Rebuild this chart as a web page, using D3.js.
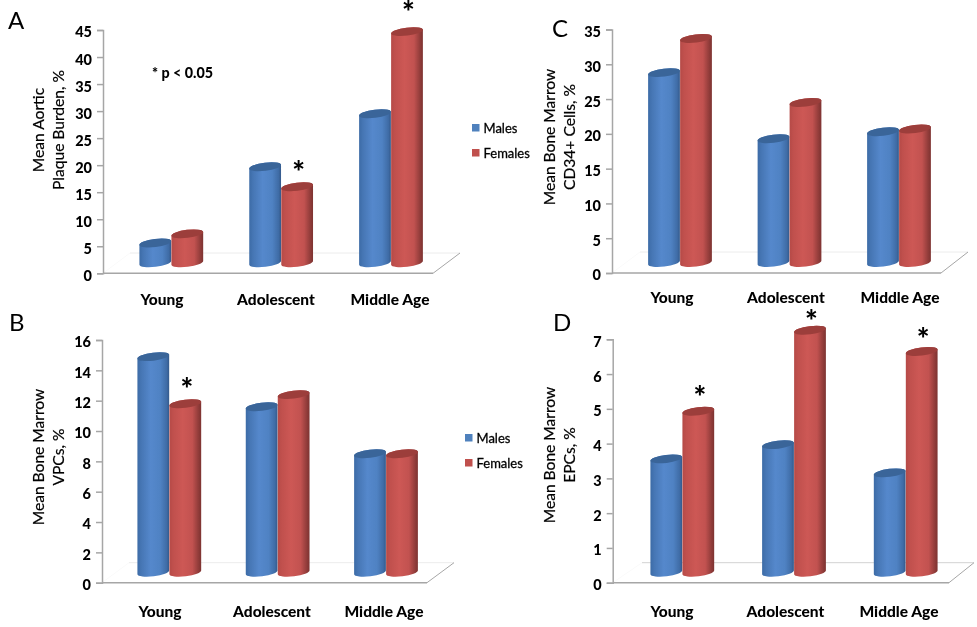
<!DOCTYPE html>
<html>
<head>
<meta charset="utf-8">
<script src="https://cdn.jsdelivr.net/npm/d3@7"></script>
<style>
html,body{margin:0;padding:0;background:#fff}
svg{display:block;font-family:Lato,"Open Sans",sans-serif;filter:blur(0.35px)}
</style>
</head>
<body>
<svg id="canvas" width="977" height="627"></svg>
<script>
// data
let categories=["Young","Adolescent","Middle Age"]
let series=["Males","Females"]

let plaqueMales=[5.6,19.7,29.5]
let plaqueFemales=[7.3,16.0,44.7]
let plaqueTicks=[0,5,10,15,20,25,30,35,40,45]
let plaqueStars=["Adolescent","Middle Age"]

let vpcMales=[14.9,11.6,8.5]
let vpcFemales=[11.8,12.4,8.5]
let vpcTicks=[0,2,4,6,8,10,12,14,16]
let vpcStars=["Young"]

let cd34Males=[28.8,19.3,20.3]
let cd34Females=[33.7,24.5,20.7]
let cd34Ticks=[0,5,10,15,20,25,30,35]
let cd34Stars=[]

let epcMales=[3.56,3.97,3.16]
let epcFemales=[4.93,7.26,6.65]
let epcTicks=[0,1,2,3,4,5,6,7]
let epcStars=["Young","Adolescent","Middle Age"]

let colors={Males:{side:'url(#blueBody)',top:'#3a6599',key:'#4f81bd'},
            Females:{side:'url(#redBody)',top:'#9c3e3b',key:'#c0504d'}}

// layout of the four panels
let panels=[
 {letter:'A',letterX:8,letterY:29,title:['Mean Aortic','Plaque Burden, %'],titleX:[38.5,58],titleY:130,
  males:plaqueMales,females:plaqueFemales,ticks:plaqueTicks,stars:plaqueStars,starGap:[0,19,24],
  axisX:103,y0:273.3,yTop:30,yMax:45,frontEnd:433,backStart:130,backEnd:460,backY:253,
  centers:[171.3,391],labels:[162,390],labelY:300,legendX:472,legendY:[128,153],baseLine:'#ececec'},
 {letter:'B',letterX:9,letterY:331,title:['Mean Bone Marrow','VPCs, %'],titleX:[38.5,58],titleY:457,
  males:vpcMales,females:vpcFemales,ticks:vpcTicks,stars:vpcStars,starGap:[19,0,0],
  axisX:102,y0:582.7,yTop:340,yMax:16,frontEnd:427,backStart:129,backEnd:454,backY:562.7,
  centers:[169.3,386],labels:[160,384],labelY:612,legendX:465,legendY:[438,463],baseLine:'#ececec'},
 {letter:'C',letterX:552,letterY:37,title:['Mean Bone Marrow','CD34+ Cells, %'],titleX:[549,569],titleY:137,
  males:cd34Males,females:cd34Females,ticks:cd34Ticks,stars:cd34Stars,starGap:[0,0,0],
  axisX:612,y0:273,yTop:29.5,yMax:35,frontEnd:941,backStart:640,backEnd:968,backY:252,
  centers:[680,899],labels:[672,900],labelY:298,baseLine:'#ececec'},
 {letter:'D',letterX:553,letterY:331,title:['Mean Bone Marrow','EPCs, %'],titleX:[549,569],titleY:455,
  males:epcMales,females:epcFemales,ticks:epcTicks,stars:epcStars,starGap:[18,13,16],
  axisX:612.7,y0:582.7,yTop:339.3,yMax:7,frontEnd:949,backStart:642,backEnd:974,backY:562.7,
  centers:[682.3,905.7],labels:[672,899],labelY:612,baseLine:'#d2d2d2'}
]

let svg=d3.select('#canvas')
let defs=svg.append('defs')

let addGradient=(id,stops)=>{
    let g=defs.append('linearGradient').attr('id',id)
    g.selectAll('stop').data(stops).enter().append('stop')
     .attr('offset',d=>d[0]).attr('stop-color',d=>d[1])
}
addGradient('blueBody',[[0,'#3c6ba6'],[0.12,'#4676b4'],[0.42,'#5588cc'],[0.72,'#4f82c3'],[0.92,'#3f6ca6'],[1,'#34598a']])
addGradient('redBody',[[0,'#b54a47'],[0.12,'#c0504d'],[0.42,'#cd5855'],[0.72,'#c25250'],[0.92,'#8f3b39'],[1,'#7d3331']])

let rx=16,ry=4,tilt=7
let dx=rx*Math.cos(tilt*Math.PI/180),dy=rx*Math.sin(tilt*Math.PI/180)

let cylinder=(cx,top,bottom)=>{
    return 'M'+(cx-dx)+','+(top+dy)+
     'L'+(cx-dx)+','+(bottom+dy)+
     'A'+rx+','+ry+' '+(-tilt)+' 0 0 '+(cx+dx)+','+(bottom-dy)+
     'L'+(cx+dx)+','+(top-dy)+
     'A'+rx+','+ry+' '+(-tilt)+' 0 0 '+(cx-dx)+','+(top+dy)+'Z'
}

let drawPanel=(p)=>{
    let g=svg.append('g')
    let y=d3.scaleLinear().domain([0,p.yMax]).range([p.y0,p.yTop])
    let step=(p.centers[1]-p.centers[0])/2
    let x=d3.scaleBand().domain(categories).range([p.centers[0]-step/2,p.centers[1]+step/2])
    let sx=d3.scaleBand().domain(series).range([-2*rx,2*rx])
    let labelX=d3.scalePoint().domain(categories).range(p.labels)
    let barBase=p.y0-10.5

    // floor
    g.append('line').attr('x1',p.backStart).attr('x2',p.backEnd).attr('y1',p.backY).attr('y2',p.backY)
     .attr('stroke',p.baseLine).attr('stroke-width',1)
    g.append('line').attr('x1',p.axisX).attr('x2',p.backStart).attr('y1',p.y0).attr('y2',p.backY)
     .attr('stroke','#fafafa').attr('stroke-width',1)
    g.append('line').attr('x1',p.axisX).attr('x2',p.frontEnd).attr('y1',p.y0).attr('y2',p.y0)
     .attr('stroke','#a6a6a6').attr('stroke-width',1.5)
    g.append('line').attr('x1',p.frontEnd).attr('x2',p.backEnd).attr('y1',p.y0).attr('y2',p.backY)
     .attr('stroke','#a6a6a6').attr('stroke-width',1)

    // y axis
    let axis=g.append('g').attr('transform','translate('+p.axisX+',0)')
     .call(d3.axisLeft(y).tickValues(p.ticks).tickSize(6).tickPadding(5).tickFormat(d3.format('d')))
    axis.selectAll('path,line').attr('stroke','#a6a6a6').attr('stroke-width',1.5)
    axis.selectAll('text').attr('font-size',14.5).attr('font-weight',900).attr('fill','#000')
     .attr('font-family','Lato').attr('dy','0.48em')

    // bars
    let rows=[]
    categories.forEach((c,i)=>{
        rows.push({cat:c,name:'Males',value:p.males[i]})
        rows.push({cat:c,name:'Females',value:p.females[i]})
    })
    let bars=g.selectAll('g.bar').data(rows).enter().append('g').attr('class','bar')
    let centre=d=>x(d.cat)+x.bandwidth()/2+sx(d.name)+sx.bandwidth()/2
    bars.append('path')
     .attr('d',d=>cylinder(centre(d),y(d.value),barBase))
     .attr('fill',d=>colors[d.name].side)
    bars.append('ellipse')
     .attr('rx',rx).attr('ry',ry)
     .attr('transform',d=>'translate('+centre(d)+','+y(d.value)+') rotate('+(-tilt)+')')
     .attr('fill',d=>colors[d.name].top)

    // significance marks
    g.selectAll('text.star').data(rows.filter(d=>d.name=='Females'&&p.stars.includes(d.cat))).enter()
     .append('text').attr('class','star')
     .attr('x',d=>centre(d)+1.5)
     .attr('y',d=>y(d.value)-p.starGap[categories.indexOf(d.cat)]+15)
     .attr('text-anchor','middle').attr('font-size',30).attr('font-weight',900).attr('fill','#000')
     .text('*')

    // category labels
    g.selectAll('text.cat').data(categories).enter().append('text').attr('class','cat')
     .attr('x',d=>labelX(d)).attr('y',p.labelY+5)
     .attr('text-anchor','middle').attr('font-size',15.5).attr('font-weight',900).attr('fill','#000')
     .text(d=>d)

    // y title
    p.title.forEach((t,i)=>{
        g.append('text')
         .attr('transform','translate('+(p.titleX[i]+5.5)+','+p.titleY+') rotate(-90)')
         .attr('text-anchor','middle').attr('font-size',15.6).attr('fill','#000')
         .attr('stroke','#000').attr('stroke-width',0.2)
         .text(t)
    })

    // panel letter
    g.append('text').attr('x',p.letterX).attr('y',p.letterY)
     .attr('font-size',24).attr('fill','#000').text(p.letter)

    // legend
    if(p.legendY){
        let key=g.selectAll('g.key').data(series).enter().append('g').attr('class','key')
        key.append('rect')
         .attr('x',p.legendX).attr('y',(d,i)=>p.legendY[i]-4).attr('width',7.5).attr('height',7.5)
         .attr('fill',d=>colors[d].key)
        key.append('text')
         .attr('x',p.legendX+11.5).attr('y',(d,i)=>p.legendY[i]+4.5)
         .attr('font-size',13).attr('fill','#000')
         .attr('stroke','#000').attr('stroke-width',0.3)
         .text(d=>d)
    }
}

panels.forEach(drawPanel)

// note in panel A
svg.append('text').attr('x',152).attr('y',78)
 .attr('font-size',14.3).attr('font-weight',900).attr('fill','#000')
 .text('* p < 0.05')
</script>
</body>
</html>
